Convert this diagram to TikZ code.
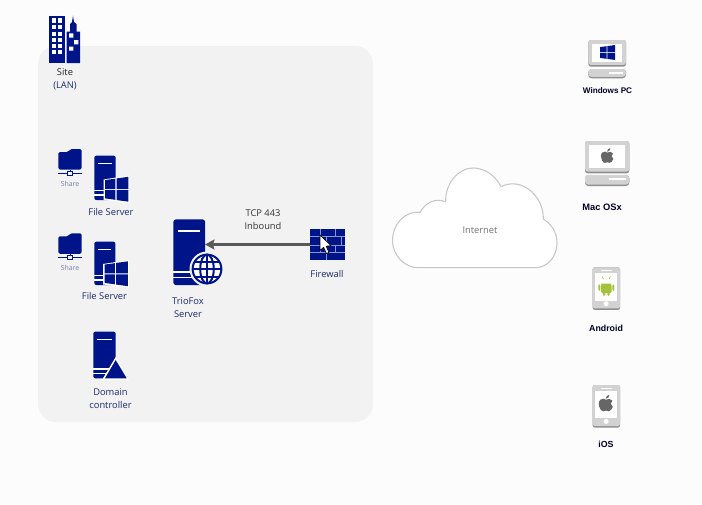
\documentclass[tikz,border=0pt]{standalone}
\usepackage{fontspec}
\setmainfont{Open Sans}
\newfontfamily\devfont{Liberation Sans}
\usetikzlibrary{arrows.meta,calc}
\definecolor{navy}{HTML}{001489}
\definecolor{panel}{HTML}{F2F2F2}
\definecolor{page}{HTML}{FCFCFC}
\definecolor{devgray}{HTML}{D2D2D2}
\definecolor{devedge}{HTML}{8F8F8F}
\definecolor{labelblue}{HTML}{1B2A6B}
\definecolor{droid}{HTML}{A4C13A}
\definecolor{applegray}{HTML}{666666}
\tikzset{
  anchorbox/.style={inner sep=0pt,outer sep=0pt,minimum width=#1},
  lbl/.style={font=\fontsize{7}{10.5}\selectfont,text=labelblue,align=center,inner sep=0pt},
  smalllbl/.style={font=\fontsize{5.2}{7}\selectfont,text=labelblue!60,inner sep=0pt},
  devlbl/.style={font=\devfont\bfseries\fontsize{6.6}{8}\selectfont,text=black!85!blue,inner sep=0pt},
  wline/.style={draw=white,line width=1.1pt},
  link/.style={draw=black!65,line width=2pt,-{Stealth[length=7pt,width=7.5pt,inset=1pt]}},
}
% Tower case with a slot at the top and two at the bottom; #1=x0 #2=y0 #3=x1 #4=y1
\newcommand{\towercase}[4]{
  \fill[navy,rounded corners=1.5] (#1,#2) rectangle (#3,#4);
  \draw[wline] ({#1+4},{#2+8}) -- ({#3-4},{#2+8});
  \draw[wline] (#1,{#4-9.5}) -- ({#3-4},{#4-9.5});
  \draw[wline] (#1,{#4-5}) -- ({#3-4},{#4-5});
}
% Four-pane window emblem, sheared towards the right; origin at its top left, size 1x1
\newcommand{\winpanes}[2][navy]{
  \begin{scope}[#2]
    \fill[#1] (0,.11) -- (.44,.05) -- (.44,.48) -- (0,.48) -- cycle;
    \fill[#1] (.49,.04) -- (1,-.03) -- (1,.48) -- (.49,.48) -- cycle;
    \fill[#1] (0,.53) -- (.44,.53) -- (.44,.95) -- (0,.89) -- cycle;
    \fill[#1] (.49,.53) -- (1,.53) -- (1,1.03) -- (.49,.96) -- cycle;
  \end{scope}
}
% Server emblem outlined in white
\newcommand{\winbadge}[2]{
  \fill[white] ($(#1,#2)+(-1.5,2)$) -- ($(#1,#2)+(24.5,-2)$) -- ($(#1,#2)+(24.5,25.5)$) -- ($(#1,#2)+(-1.5,22.5)$) -- cycle;
  \winpanes{shift={(#1,#2)},x=17.6pt,y=-17.6pt}
}
% Shared folder with its network line; #1=left #2=top
\newcommand{\sharefolder}[2]{
  \begin{scope}[shift={(#1,#2)}]
    \fill[navy,rounded corners=1.2] (0,3) -- (10,3) -- (12,0) -- (23.4,0) -- (23.4,20.5) -- (0,20.5) -- cycle;
    \draw[navy,line width=.75pt] (11.7,20.5) -- (11.7,22);
    \draw[navy,line width=.75pt] (0,24) -- (9.5,24) (14,24) -- (23.4,24);
    \draw[navy,line width=.75pt] (9.5,22) rectangle (14,26);
  \end{scope}
}
% Desktop computer; #1=x0 #2=y0 #3=x1 #4=monitor bottom #5=base top #6=base bottom #7=slot start
\newcommand{\desktop}[7]{
  \fill[devedge,rounded corners=2] (#1,#2) rectangle (#3,#4);
  \fill[devgray,rounded corners=2] (#1,#2) rectangle (#3,{#4-1.8});
  \fill[white] ({#1+4},{#2+3.6}) rectangle ({#3-4},{#4-5.2});
  \fill[devedge,rounded corners=2.5] (#1,#5) rectangle (#3,#6);
  \fill[devgray,rounded corners=2.5] (#1,#5) rectangle (#3,{#6-1.4});
  \fill[white] (#7,{#5+3}) rectangle ({#3-3},{#5+5.2});
}
% Phone with a white screen, speaker slot and home button; #1=top
\newcommand{\phone}[1]{
  \begin{scope}[shift={(592.7,#1)}]
    \fill[devedge,rounded corners=1.5] (0,0) rectangle (27.3,42.5);
    \fill[devgray,rounded corners=1.5] (0,0) rectangle (27.3,41);
    \fill[white] (2.7,6) rectangle (24.6,33.4);
    \fill[white] (8.5,2.6) rectangle (19,4);
    \fill[white] (13.4,36.4) circle (2.5);
  \end{scope}
}
% Apple emblem; #1=centre, #2=scale (about 16 units wide at scale 1)
\newcommand{\applemark}[2]{
  \begin{scope}[shift={(#1)},scale=#2]
    \fill[applegray] (0,-3.6) .. controls (2,-5.2) and (5.4,-5) .. (7,-2.6)
      .. controls (4.6,-1) and (4.8,3) .. (7.6,4.2)
      .. controls (6.8,6.6) and (4.6,9.2) .. (3,9.2)
      .. controls (1.6,9.2) and (1,8.4) .. (0,8.4)
      .. controls (-1,8.4) and (-1.8,9.2) .. (-3,9.2)
      .. controls (-5.6,9.2) and (-8,4.6) .. (-8,.8)
      .. controls (-8,-3.4) and (-5,-5.2) .. (-2.6,-4.8)
      .. controls (-1.6,-4.6) and (-.8,-3.9) .. (0,-3.6) -- cycle;
    \fill[applegray] (-.3,-4.6) .. controls (-.4,-7) and (1.6,-9) .. (3.8,-9.2)
      .. controls (3.9,-6.8) and (2,-4.8) .. (-.3,-4.6) -- cycle;
  \end{scope}
}
\begin{document}
\begin{tikzpicture}[x=0.75pt,y=-0.75pt]
  \useasboundingbox (0,0) rectangle (702,504);
  \fill[page] (0,0) rectangle (702,504);
  \fill[panel,rounded corners=13.5pt] (38,46) rectangle (373,422);

  % Office building
  \fill[navy] (49,15.5) rectangle (64.5,63);
  \foreach \wy/\wh in {18.3/4.4,25/4.3,31.7/4,37.7/4,44/4.3,50/4.3}{
    \fill[white] (51.7,\wy) rectangle ++(4,\wh);
    \fill[white] (57.7,\wy) rectangle ++(4.6,\wh);
  }
  \fill[navy] (66.7,63) -- (66.7,31.7) -- (70,31.7) -- (70,24) -- (72,22) -- (73,15.7) -- (74,22) -- (76.5,24) -- (76.5,31.7) -- (80,31.7) -- (80,63) -- cycle;
  \fill[white] (69,33.3) rectangle (73.3,37.7) (74,40) rectangle (78.3,44.3) (69,46.7) rectangle (73.3,50.7);
  \node[lbl] (site) at (65,79.5) {\textcolor{black!85}{Site}\\[-.5pt](LAN)};

  % File servers with their shares
  \sharefolder{58.3}{149}
  \node[smalllbl] (shareA) at (70,184) {Share};
  \towercase{94.3}{155.7}{115.7}{200}
  \winbadge{105}{177.5}
  \node[lbl] (fileA) at (111,211.5) {File Server};

  \sharefolder{58.3}{233.3}
  \node[smalllbl] (shareB) at (70,268) {Share};
  \towercase{94.3}{241.7}{115.4}{285}
  \winbadge{104.5}{262}
  \node[lbl] (fileB) at (104.5,295.5) {File Server};

  % Domain controller
  \towercase{93.3}{331.7}{115.7}{378.3}
  \fill[white] (115.7,357) -- (129,380) -- (102,380) -- cycle;
  \fill[navy] (115.7,360) -- (126.7,378.3) -- (105,378.3) -- cycle;
  \node[lbl] (dc) at (110.5,398.5) {Domain\\[-.5pt]controller};

  % TrioFox server with its globe
  \node[anchorbox=23.8pt,minimum height=49.3pt] (trio) at (189.2,252.2) {};
  \fill[navy,rounded corners=2] (trio.north west) rectangle (trio.south east);
  \draw[white,line width=1.2pt] (178.3,230.7) -- (200,230.7);
  \draw[white,line width=1.2pt] (173.3,271.7) -- (192,271.7) (173.3,277.3) -- (192,277.3);
  \fill[panel] (207,269) circle (17.5);
  \fill[white] (207,269) circle (15);
  \begin{scope}[navy,line width=1.5pt]
    \draw (207,269) circle (14.4);
    \draw (207,269) ellipse (6.8 and 14.4);
    \draw (207,254.6) -- (207,283.4) (192.6,269) -- (221.4,269);
    \draw (194.6,261.5) -- (219.4,261.5) (194.6,276.5) -- (219.4,276.5);
  \end{scope}
  \node[lbl] (trioL) at (188,307.5) {TrioFox\\[-.5pt]Server};

  % Firewall brick wall
  \node[anchorbox=26.25pt,minimum height=23.25pt] (fw) at (327.5,244.5) {};
  \fill[navy] (fw.north west) rectangle (fw.south east);
  \begin{scope}[draw=navy!45!white,line width=.75pt]
    \draw (310,236.7) -- (345,236.7) (310,245) -- (345,245) (310,252.7) -- (345,252.7);
    \draw (320,229) -- (320,236.7) (335.7,229) -- (335.7,236.7);
    \draw (326.7,236.7) -- (326.7,245) (341,236.7) -- (341,245);
    \draw (320,245) -- (320,252.7) (335.7,245) -- (335.7,252.7);
    \draw (326.7,252.7) -- (326.7,260);
  \end{scope}
  \node[lbl] (fwL) at (327,273.5) {Firewall};

  % Inbound link
  \draw[link] (fw.west) -- (fw.west -| trio.east);
  \node[lbl,text=black!80] (tcp) at (263,219.5) {TCP 443\\[-.5pt]Inbound};

  % Pointer
  \draw[black,fill=white,line width=.5pt,line join=round] (320,235) -- (320,250.5) -- (323.6,247.3) -- (326.4,253.6) -- (329,252.4) -- (326.2,246.2) -- (331,245.6) -- cycle;

  % Cloud
  \draw[fill=white,draw=black!22,line width=.8pt] (418.3,267.7) -- (535,267.7)
    .. controls (548,267.7) and (557,256) .. (557,243)
    .. controls (557,231) and (550,223) .. (543.3,219)
    .. controls (544,197) and (522,176) .. (501,186.7)
    .. controls (494,173) and (482,168) .. (473,168)
    .. controls (458,168) and (445,184) .. (445.7,201.7)
    .. controls (435,198) and (426,202) .. (420,212.3)
    .. controls (403,211) and (392.5,226) .. (392.5,240)
    .. controls (392.5,256) and (405,267.7) .. (418.3,267.7) -- cycle;
  \node[lbl,text=black!55] (net) at (480,230.5) {Internet};

  % Client devices
  \desktop{588.3}{40}{626}{66.7}{69}{78.3}{609}
  \winpanes{shift={(600,45.5)},x=11.25pt,y=-10.5pt}
  \node[devlbl,font=\devfont\bfseries\fontsize{6.1}{8}\selectfont] (winL) at (607.5,91) {Windows PC};

  \desktop{585}{141}{629.3}{173.3}{175}{186}{609}
  \applemark{607.3,155.5}{.8}
  \node[devlbl,font=\devfont\bfseries\fontsize{7}{8}\selectfont] (macL) at (602,207) {Mac OSx};

  \phone{267.3}
  % Android robot
  \begin{scope}[shift={(606.3,286.3)}]
    \fill[droid] (-5.2,-2.6) arc[start angle=180,end angle=0,radius=5.2] -- cycle;
    \draw[droid,line width=.5pt] (-2.8,-7.2) -- (-4,-9.7) (2.8,-7.2) -- (4,-9.7);
    \fill[white] (-2.2,-5) circle (.6) (2.2,-5) circle (.6);
    \fill[droid,rounded corners=.8] (-5.2,-1.8) rectangle (5.2,6.5);
    \fill[droid,rounded corners=1] (-8,-2) rectangle (-6,4.5);
    \fill[droid,rounded corners=1] (6,-2) rectangle (8,4.5);
    \fill[droid,rounded corners=1] (-3.4,5.5) rectangle (-1,9.7);
    \fill[droid,rounded corners=1] (1,5.5) rectangle (3.4,9.7);
  \end{scope}
  \node[devlbl] (andL) at (606,328.5) {Android};

  \phone{385}
  \applemark{606,403}{.9}
  \node[devlbl] (iosL) at (606,444.5) {iOS};
\end{tikzpicture}
\end{document}
